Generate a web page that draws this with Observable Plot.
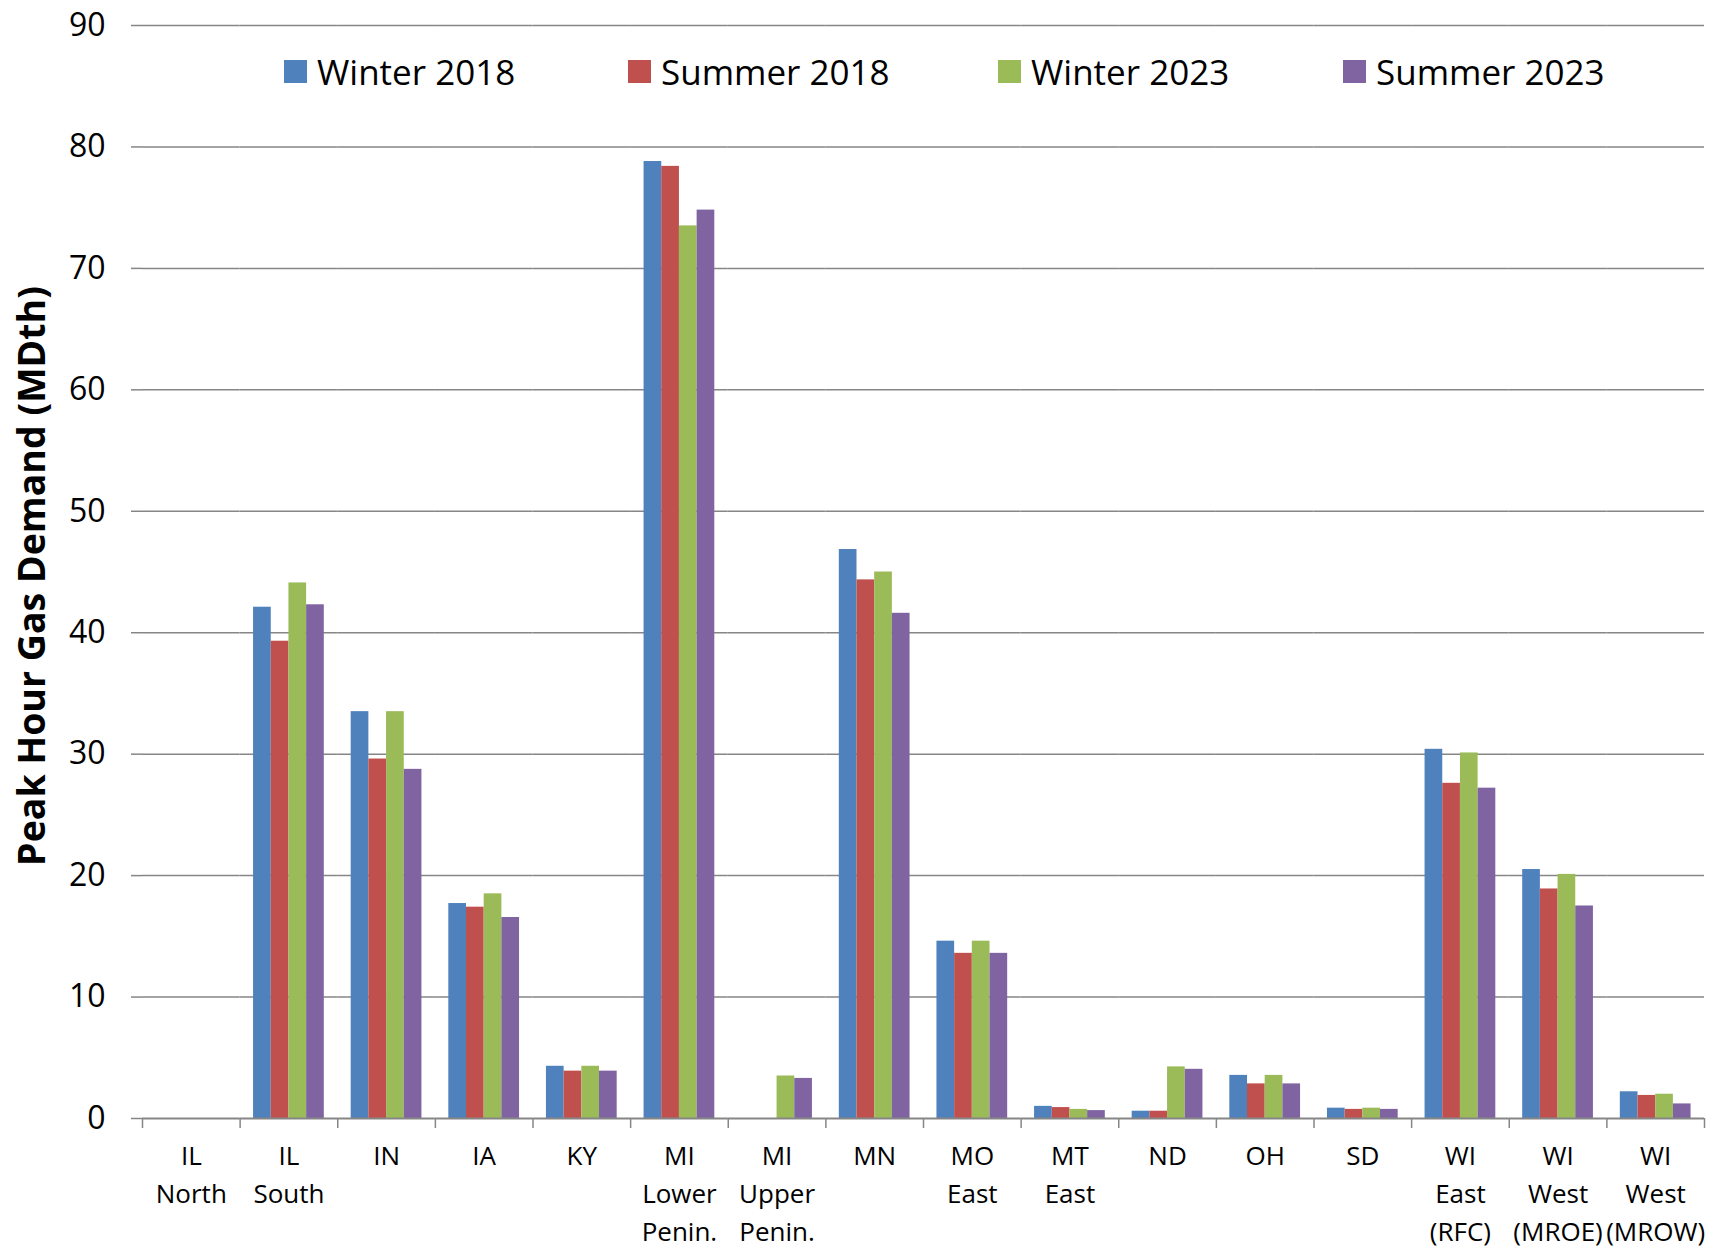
<!DOCTYPE html>
<html>
<head>
<meta charset="utf-8">
<script src="https://cdn.jsdelivr.net/npm/d3@7"></script>
<script src="https://cdn.jsdelivr.net/npm/@observablehq/plot@0.6"></script>
<style>
  html, body { margin: 0; padding: 0; background: white; }
  #wrap { position: relative; width: 1711px; height: 1249px; font-family: "Open Sans", sans-serif; }
  #chart { position: absolute; left: 0; top: 0; }
  .legend-item { position: absolute; top: 60px; display: flex; align-items: center; height: 23px; }
  .swatch { width: 23px; height: 23px; margin-right: 10px; flex: none; }
  .legend-label { font-size: 35px; line-height: 23px; white-space: nowrap; color: #000; }
  #ytitle { position: absolute; left: 31px; top: 576px; transform: translate(-50%, -50%) rotate(-90deg);
            font-size: 37.5px; font-weight: bold; white-space: nowrap; line-height: 1; color: #000; }
</style>
</head>
<body>
<div id="wrap">
  <div id="chart"></div>
  <div id="ytitle">Peak Hour Gas Demand (MDth)</div>
</div>
<script>
// ---- Data ----
const regions = ["IL\nNorth", "IL\nSouth", "IN", "IA", "KY", "MI\nLower\nPenin.", "MI\nUpper\nPenin.", "MN",
                 "MO\nEast", "MT\nEast", "ND", "OH", "SD", "WI\nEast\n(RFC)", "WI\nWest\n(MROE)", "WI\nWest\n(MROW)"];
const series = ["Winter 2018", "Summer 2018", "Winter 2023", "Summer 2023"];
const colors = ["#4F81BD", "#C0504D", "#9BBB59", "#8064A2"];
const winter2018 = [0, 42.1, 33.5, 17.7, 4.3, 78.8, 0,   46.85, 14.6, 1.0,  0.6,  3.55, 0.85, 30.4, 20.5, 2.2];
const summer2018 = [0, 39.3, 29.6, 17.4, 3.9, 78.4, 0,   44.35, 13.6, 0.9,  0.6,  2.85, 0.75, 27.6, 18.9, 1.9];
const winter2023 = [0, 44.1, 33.5, 18.5, 4.3, 73.5, 3.5, 45.0,  14.6, 0.75, 4.25, 3.55, 0.85, 30.1, 20.1, 2.0];
const summer2023 = [0, 42.3, 28.75,16.55,3.9, 74.8, 3.3, 41.6,  13.6, 0.65, 4.05, 2.85, 0.75, 27.2, 17.5, 1.2];
const yTicks = [0, 10, 20, 30, 40, 50, 60, 70, 80, 90];

const seriesValues = [winter2018, summer2018, winter2023, summer2023];
const data = [];
regions.forEach((r, i) => series.forEach((s, j) => data.push({region: r, series: s, value: seriesValues[j][i]})));

// ---- Layout ----
const W = 1711, H = 1249;
const mL = 142, mR = 7, mT = 25, mB = 131;
const step = (W - mL - mR) / regions.length;
const gray = "#868686";

const chart = Plot.plot({
  width: W, height: H,
  marginLeft: mL, marginRight: mR, marginTop: mT, marginBottom: mB,
  style: {fontFamily: "Open Sans", background: "white", color: "black", overflow: "visible"},
  fx: {domain: regions, padding: 0, round: false, label: null, axis: null},
  x: {domain: series, paddingInner: 0, paddingOuter: 0.76, round: false, axis: null},
  y: {domain: [0, 90], label: null, axis: null},
  color: {domain: series, range: colors},
  marks: [
    Plot.ruleY(yTicks.filter(d => d > 0), {stroke: gray, strokeWidth: 1.5}),
    Plot.barY(data, {fx: "region", x: "series", y: "value", fill: "series"}),
    Plot.ruleY([0], {stroke: gray, strokeWidth: 2}),
    Plot.axisY({ticks: yTicks, tickSize: 11, tickPadding: 26, fontSize: 32, line: true,
                stroke: gray, strokeWidth: 1.5, color: "black", tickFormat: d => d, label: null}),
    Plot.axisFx({anchor: "bottom", tickSize: 10, dx: -step / 2, text: null, stroke: gray, strokeWidth: 1.5, label: null}),
    Plot.axisFx({anchor: "bottom", ticks: [regions[regions.length - 1]], tickSize: 10, dx: step / 2, text: null,
                 stroke: gray, strokeWidth: 1.5, label: null}),
    Plot.axisFx({anchor: "bottom", tickSize: 0, tickPadding: 20, fontSize: 26, lineHeight: 1.46, label: null, color: "black"})
  ]
});
document.getElementById("chart").appendChild(chart);

// ---- Legend (HTML overlay) ----
const legendLeft = [284, 628, 998, 1343];
const wrap = document.getElementById("wrap");
series.forEach((s, i) => {
  const item = document.createElement("div");
  item.className = "legend-item";
  item.style.left = legendLeft[i] + "px";
  item.innerHTML = `<div class="swatch" style="background:${colors[i]}"></div><div class="legend-label">${s}</div>`;
  wrap.appendChild(item);
});
</script>
</body>
</html>
